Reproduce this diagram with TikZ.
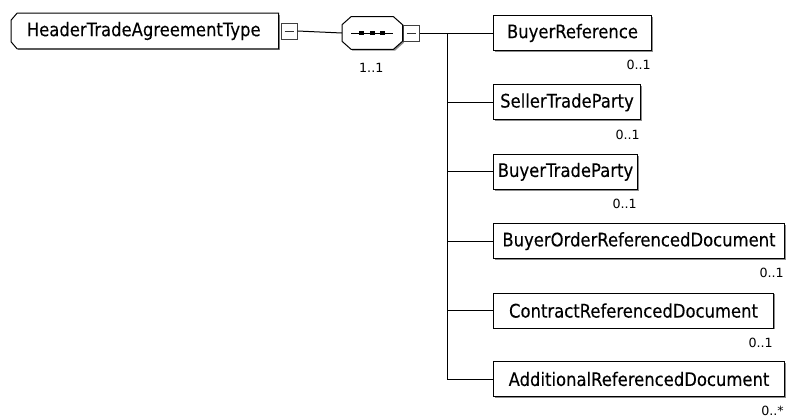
\documentclass[tikz,border=0pt]{standalone}
\usepackage{fontspec}
\setmainfont{DejaVu Sans}[FakeStretch=0.88, FakeBold=0.15]
\newfontfamily\cardfont{DejaVu Sans}
\usetikzlibrary{shadows,calc}
\begin{document}
\begin{tikzpicture}[x=0.75pt,y=-0.75pt,
  elem/.style={draw=black, line width=0.75pt, fill=white, minimum height=26.25pt, inner sep=0pt, anchor=west,
    font=\fontsize{14}{16}\selectfont,
    general shadow={fill=black!45, shadow xshift=1pt, shadow yshift=-1pt}},
  minusbox/.style={draw=black!75, line width=0.75pt, fill=white, minimum size=12pt, inner sep=0pt},
  card/.style={font=\cardfont\fontsize{9.5}{11}\selectfont, inner sep=0pt},
  conn/.style={line width=0.75pt, draw=black}]
\useasboundingbox (0,0) rectangle (801,418);

% root element
\node[minimum width=267*0.75pt, minimum height=26.25pt, inner sep=0pt, anchor=west] (root) at (11,31) {};
\fill[black!45] ($(root.north west)+(7,1.4)$) -- ($(root.north east)+(1.4,1.4)$) -- ($(root.south east)+(1.4,1.4)$) -- ($(root.south west)+(7,1.4)$) -- cycle;
\draw[line width=0.75pt, fill=white] ($(root.north west)+(0,7)$) -- ($(root.north west)+(6,0)$) -- (root.north east) -- (root.south east) -- ($(root.south west)+(6,0)$) -- ($(root.south west)+(0,-7)$) -- cycle;
\node[font=\fontsize{14}{16}\selectfont, inner sep=0pt] (roottext) at ($(root.center)+(-1,0)$) {HeaderTradeAgreementType};

\node[minusbox, anchor=west] (rminus) at ($(root.east)+(2,0)$) {};
\draw[line width=0.6pt, black!80] ($(rminus.center)+(-4.5,0)$) -- ($(rminus.center)+(4.5,0)$);

% sequence compositor
\node[minimum width=60*0.75pt, minimum height=32*0.75pt, inner sep=0pt, anchor=west] (seq) at (342,33) {};
\fill[black!45] ($(seq.north west)+(10,1.4)$) -- ($(seq.north east)+(-7.5,1.4)$) -- ($(seq.north east)+(1.4,8.5)$) -- ($(seq.south east)+(1.4,-6.5)$) -- ($(seq.south east)+(-7.5,1.4)$) -- ($(seq.south west)+(10,1.4)$) -- cycle;
\draw[line width=0.75pt, fill=white] ($(seq.north west)+(0,8)$) -- ($(seq.north west)+(9,0)$) -- ($(seq.north east)+(-9,0)$) -- ($(seq.north east)+(0,8)$) -- ($(seq.south east)+(0,-8)$) -- ($(seq.south east)+(-9,0)$) -- ($(seq.south west)+(9,0)$) -- ($(seq.south west)+(0,-8)$) -- cycle;
\draw[line width=0.75pt] ($(seq.center)+(-21,0)$) -- ($(seq.center)+(21,0)$);
\foreach \dx in {-10.5,0,10.5} \fill ($(seq.center)+(\dx-2.3,-2.3)$) rectangle ($(seq.center)+(\dx+2.3,2.3)$);
\node[card, anchor=north] (seqcard) at ($(seq.south)+(-1,14)$) {1..1};

\node[minusbox, anchor=west] (sminus) at (seq.east) {};
\draw[line width=0.6pt, black!80] ($(sminus.center)+(-4.5,0)$) -- ($(sminus.center)+(4.5,0)$);

\draw[conn] (rminus.east) -- (seq.west);

% children
\node[elem, minimum width=158*0.75pt] (c1) at (493,33) {BuyerReference};
\node[elem, minimum width=147*0.75pt] (c2) at (493,102.4) {SellerTradeParty};
\node[elem, minimum width=144*0.75pt] (c3) at (493,171.8) {BuyerTradeParty};
\node[elem, minimum width=291*0.75pt] (c4) at (493,241.2) {BuyerOrderReferencedDocument};
\node[elem, minimum width=280*0.75pt] (c5) at (493,310.6) {ContractReferencedDocument};
\node[elem, minimum width=291*0.75pt] (c6) at (493,379) {AdditionalReferencedDocument};

\coordinate (bus) at (447,33);
\coordinate (busend) at (447,379);
\draw[conn] (sminus.east) -- (c1.west);
\draw[conn] (bus) -- (busend);
\foreach \c in {c2,c3,c4,c5,c6} \draw[conn] (bus |- \c.west) -- (\c.west);

\node[card, anchor=north east] (k1) at ($(c1.south east)+(-1,9)$) {0..1};
\node[card, anchor=north east] (k2) at ($(c2.south east)+(-1,9)$) {0..1};
\node[card, anchor=north east] (k3) at ($(c3.south east)+(-1,9)$) {0..1};
\node[card, anchor=north east] (k4) at ($(c4.south east)+(-1,9)$) {0..1};
\node[card, anchor=north east] (k5) at ($(c5.south east)+(-1,9)$) {0..1};
\node[card, anchor=north east] (k6) at ($(c6.south east)+(-1,9)$) {0..*};
\end{tikzpicture}
\end{document}
